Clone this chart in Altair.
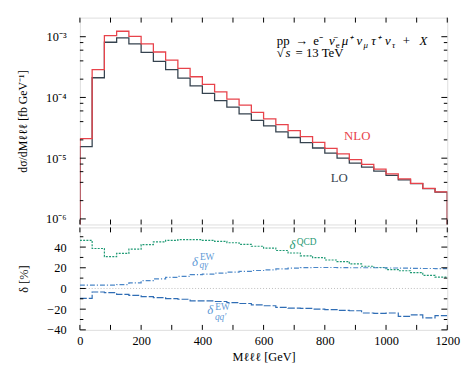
import altair as alt
import pandas as pd

FONT = "Liberation Serif"

# ---------------- data ----------------
edges = [0, 40, 80, 120, 160, 200, 240, 280, 320, 360, 400, 440, 480, 520, 560, 600,
         640, 680, 720, 760, 800, 840, 880, 920, 960, 1000, 1040, 1080, 1120, 1160, 1200]

lo = [1.55e-5, 2.11e-4, 8.1e-4, 9.6e-4, 7.6e-4, 5.5e-4, 3.94e-4, 2.88e-4, 2.08e-4, 1.55e-4,
      1.17e-4, 8.85e-5, 6.9e-5, 5.37e-5, 4.19e-5, 3.39e-5, 2.71e-5, 2.19e-5, 1.8e-5, 1.47e-5,
      1.21e-5, 1.0e-5, 8.3e-6, 7.1e-6, 6.1e-6, 5.2e-6, 4.4e-6, 3.8e-6, 3.15e-6, 2.75e-6]
nlo = [2.1e-5, 2.88e-4, 1.04e-3, 1.23e-3, 1.01e-3, 7.6e-4, 5.6e-4, 4.1e-4, 3.0e-4, 2.19e-4,
       1.64e-4, 1.24e-4, 9.4e-5, 7.5e-5, 5.7e-5, 4.45e-5, 3.56e-5, 2.84e-5, 2.27e-5, 1.82e-5,
       1.45e-5, 1.18e-5, 9.5e-6, 7.9e-6, 6.6e-6, 5.5e-6, 4.57e-6, 3.85e-6, 3.19e-6, 2.78e-6]

d_qcd = [46.5, 38.6, 30.7, 33.9, 38.0, 42.4, 45.0, 46.5, 47.2, 47.2, 46.5, 45.5, 44.2, 42.7,
         40.8, 39.0, 36.7, 34.3, 31.5, 29.8, 27.5, 26.0, 23.7, 21.5, 20.3, 18.3, 17.1, 15.3,
         12.7, 10.9]
d_qgam = [3.2, 3.2, 3.2, 3.8, 5.4, 7.6, 9.2, 10.8, 11.7, 13.3, 13.9, 14.9, 15.8, 16.5, 17.4,
          18.0, 19.0, 19.6, 20.2, 20.3, 20.3, 20.2, 20.0, 20.0, 20.0, 19.8, 19.6, 19.5, 19.3,
          19.2]
d_qq = [-9.5, -3.4, -4.1, -5.7, -6.6, -7.9, -8.8, -9.8, -10.4, -12.0, -12.0, -12.6, -13.6,
        -14.5, -15.8, -16.7, -18.3, -19.0, -19.2, -19.9, -20.5, -21.2, -21.5, -23.7, -24.0,
        -23.7, -26.9, -25.6, -28.5, -26.2]

x_ticks = [0, 100, 200, 300, 400, 500, 600, 700, 800, 900, 1000, 1100, 1200]
x_labels = [0, 200, 400, 600, 800, 1000, 1200]
y_major = [1e-6, 1e-5, 1e-4, 1e-3]
y_minor = [2e-6, 4e-6, 6e-6, 8e-6, 2e-5, 4e-5, 6e-5, 8e-5, 2e-4, 4e-4, 6e-4, 8e-4]
r_major = [-40, -20, 0, 20, 40]
r_minor = [-30, -10, 10, 30, 50]

# ---------------- style ----------------
W, H1, H2 = 373, 210, 104
YDOM = [8.1e-7, 2.06e-3]
RDOM = [-40, 59]
FLOOR = 1e-7
C_LO = "#36434f"
C_NLO = "#e8434b"
C_QCD = "#1f9a74"
C_QG = "#4a86c8"
C_QQ = "#2f6db5"
C_EWLAB = "#5f9ad6"

XS = alt.Scale(domain=[0, 1200], nice=False, zero=False)
YS = alt.Scale(type="log", domain=YDOM, nice=False)
RS = alt.Scale(domain=RDOM, nice=False, zero=False)

y_axis_top = alt.Axis(values=y_major, ticks=False, domain=False, grid=False, tickSize=0,
                      labelPadding=14, labelFontSize=12.5, labelFont=FONT,
                      labelExpr="datum.value < 5e-6 ? '10⁻⁶' : datum.value < 5e-5 ? '10⁻⁵' : datum.value < 5e-4 ? '10⁻⁴' : '10⁻³'",
                      title="dσ/dMℓℓℓ  [fb GeV⁻¹]", titleFont=FONT, titleFontSize=12,
                      titleFontWeight="normal", titlePadding=16)
x_axis_bot = alt.Axis(values=x_labels, ticks=False, domain=False, grid=False, tickSize=0,
                      labelPadding=5, labelFontSize=12.5, labelFont=FONT, labelFlush=False,
                      labelOverlap=False, format="d", title="Mℓℓℓ  [GeV]", titleFont=FONT,
                      titleFontSize=12.5, titleFontWeight="normal", titlePadding=4)
r_axis = alt.Axis(values=r_major, ticks=False, domain=False, grid=False, tickSize=0,
                  labelPadding=14, labelFontSize=12.5, labelFont=FONT,
                  labelExpr="replace(datum.label, '-', '−')",
                  title="δ  [%]", titleFont=FONT, titleFontSize=12.5,
                  titleFontWeight="normal", titlePadding=17)


def hist_df(vals, floor=None):
    xs, ys = [], []
    if floor is not None:
        xs.append(edges[0]); ys.append(floor)
    xs += edges[:-1]; ys += list(vals)
    xs.append(edges[-1]); ys.append(vals[-1])
    if floor is not None:
        xs.append(edges[-1]); ys.append(floor)
    return pd.DataFrame({"x": xs, "y": ys, "i": list(range(len(xs)))})


def xticks(ypix0, ypix1, xaxis):
    return alt.Chart(pd.DataFrame({"x": x_ticks})).mark_rule(color="black", strokeWidth=1).encode(
        x=alt.X("x:Q", scale=XS, axis=xaxis), y=alt.value(ypix0), y2=alt.value(ypix1))


def yticks(vals, scale, yaxis, x0, x1):
    return alt.Chart(pd.DataFrame({"y": vals})).mark_rule(color="black", strokeWidth=1).encode(
        y=alt.Y("y:Q", scale=scale, axis=yaxis), x=alt.value(x0), x2=alt.value(x1))


def txt(x, y, text, scale, xaxis, yaxis, size, color="black", italic=False, dx=0, dy=0, align="left"):
    return alt.Chart(pd.DataFrame({"x": [x], "y": [y], "t": [text]})).mark_text(
        align=align, baseline="alphabetic", font=FONT, fontSize=size, color=color,
        fontStyle="italic" if italic else "normal", dx=dx, dy=dy).encode(
        x=alt.X("x:Q", scale=XS, axis=xaxis), y=alt.Y("y:Q", scale=scale, axis=yaxis), text="t:N")


def hline(vals, color, xaxis, yaxis, scale, floor=None, dash=None, width=1.3):
    kw = dict(interpolate="step-after", clip=True, color=color, strokeWidth=width)
    if dash:
        kw["strokeDash"] = dash
    return alt.Chart(hist_df(vals, floor)).mark_line(**kw).encode(
        x=alt.X("x:Q", scale=XS, axis=xaxis), y=alt.Y("y:Q", scale=scale, axis=yaxis), order="i:Q")


# ---------------- top panel ----------------
def ttop(x, y, t, size, **kw):
    return txt(x, y, t, YS, None, y_axis_top, size, **kw)


PX, PY = 643, 7.2e-4
PY2 = 4.57e-4
segs = [
    ("pp", 0, 0, 13, False),
    ("→", 19, 0, 13, False),
    ("e⁻", 37, 0, 13, False),
    ("ν̄", 53, 0, 13, True),
    ("e", 60, 3, 9, False),
    ("μ⁺", 66, 0, 13, True),
    ("ν", 81, 0, 13, True),
    ("μ", 88, 3, 9, True),
    ("τ⁺", 96, 0, 13, True),
    ("ν", 110, 0, 13, True),
    ("τ", 117, 3, 9, True),
    ("+", 128, 0, 13, False),
    ("X", 145, 0, 13, True),
]
top_layers = [hline(lo, C_LO, None, y_axis_top, YS, FLOOR),
              hline(nlo, C_NLO, None, y_axis_top, YS, FLOOR)]
for t, dx, dy, sz, it in segs:
    top_layers.append(ttop(PX, PY, t, sz, italic=it, dx=dx, dy=dy))
top_layers.append(ttop(PX, PY2, "√", 13))
top_layers.append(ttop(PX, PY2, "s", 13, italic=True, dx=9))
top_layers.append(ttop(PX, PY2, "= 13 TeV", 13, dx=19))
top_layers.append(ttop(906, 2.0e-5, "NLO", 13, color=C_NLO, align="center"))
top_layers.append(ttop(847, 4.1e-6, "LO", 13, color=C_LO, align="center"))
top_layers += [
    xticks(0, 5, None), xticks(H1, H1 - 5, None),
    yticks(y_major, YS, y_axis_top, 0, 6), yticks(y_major, YS, y_axis_top, W, W - 6),
    yticks(y_minor, YS, y_axis_top, 0, 3.5), yticks(y_minor, YS, y_axis_top, W, W - 3.5),
]
top = alt.layer(*top_layers).properties(width=W, height=H1)

# ---------------- bottom panel ----------------
def tbot(x, y, t, size, **kw):
    return txt(x, y, t, RS, x_axis_bot, r_axis, size, **kw)


zero = alt.Chart(pd.DataFrame({"y": [0]})).mark_rule(
    color="#b5b5b5", strokeWidth=0.9, strokeDash=[1, 2]).encode(
    y=alt.Y("y:Q", scale=RS, axis=r_axis))

bot_layers = [
    zero,
    hline(d_qcd, C_QCD, x_axis_bot, r_axis, RS, dash=[2, 1.3], width=1.2),
    hline(d_qgam, C_QG, x_axis_bot, r_axis, RS, dash=[5, 2, 1.2, 2], width=1.2),
    hline(d_qq, C_QQ, x_axis_bot, r_axis, RS, dash=[7, 2], width=1.2),
    tbot(685, 38, "δ", 13, color=C_QCD, italic=True),
    tbot(708, 41.7, "QCD", 9.5, color=C_QCD),
    tbot(366, 21.3, "δ", 13, color=C_EWLAB, italic=True),
    tbot(392, 27.7, "EW", 9.5, color=C_EWLAB),
    tbot(391, 19.5, "qγ", 9.5, color=C_EWLAB, italic=True),
    tbot(416, -24.7, "δ", 13, color=C_EWLAB, italic=True),
    tbot(442, -20.9, "EW", 9.5, color=C_EWLAB),
    tbot(441, -30.2, "qq′", 9.5, color=C_EWLAB, italic=True),
    xticks(0, 5, x_axis_bot), xticks(H2, H2 - 5, x_axis_bot),
    yticks(r_major, RS, r_axis, 0, 6), yticks(r_major, RS, r_axis, W, W - 6),
    yticks(r_minor, RS, r_axis, 0, 3.5), yticks(r_minor, RS, r_axis, W, W - 3.5),
]
bottom = alt.layer(*bot_layers).properties(width=W, height=H2)

chart = alt.vconcat(top, bottom, spacing=0).configure_view(
    stroke="black", strokeWidth=1).configure(background="white").properties(
    padding={"left": 8, "top": 6, "right": 5, "bottom": 5})

chart.save("out.html", embed_options={"renderer": "svg", "actions": False})
